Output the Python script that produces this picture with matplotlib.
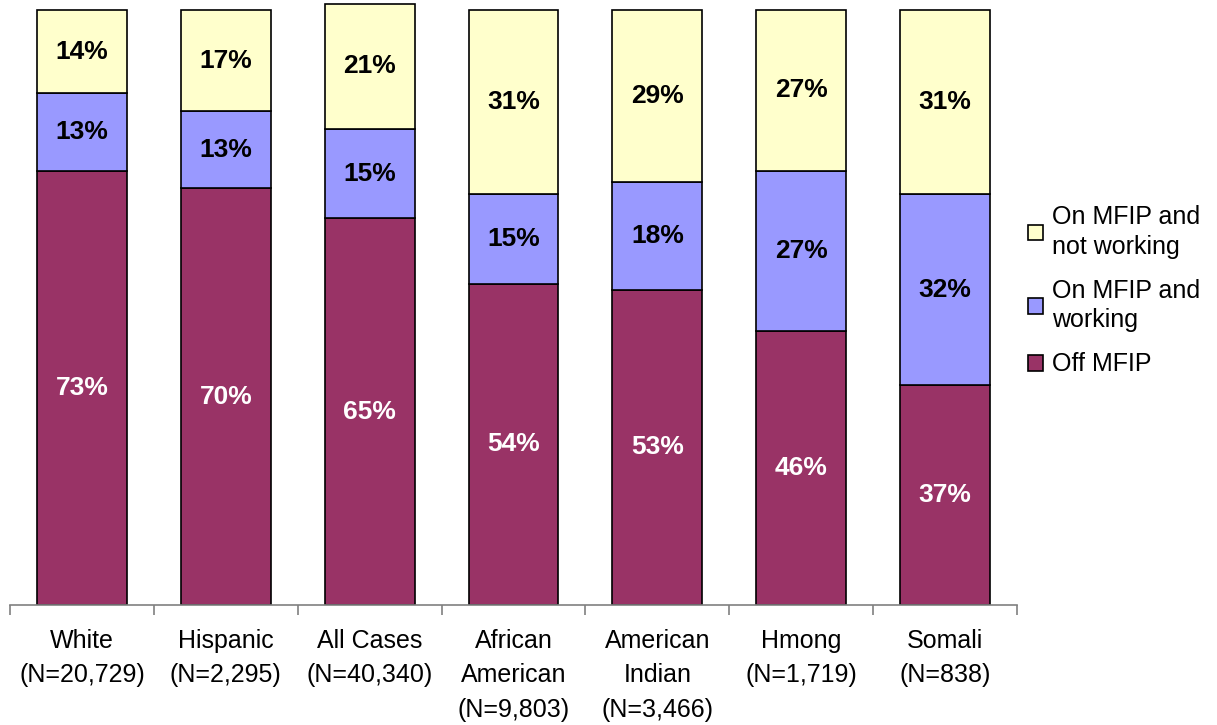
import matplotlib
matplotlib.use('Agg')
import matplotlib.pyplot as plt
from matplotlib.patches import Patch
import numpy as np

plt.rcParams['font.family'] = ['Liberation Sans', 'DejaVu Sans']

# Data
categories = ['White\n(N=20,729)', 'Hispanic\n(N=2,295)', 'All Cases\n(N=40,340)',
              'African\nAmerican\n(N=9,803)', 'American\nIndian\n(N=3,466)',
              'Hmong\n(N=1,719)', 'Somali\n(N=838)']
off_mfip = [73, 70, 65, 54, 53, 46, 37]
on_working = [13, 13, 15, 15, 18, 27, 32]
on_not_working = [14, 17, 21, 31, 29, 27, 31]

series_labels = ['Off MFIP', 'On MFIP and\nworking', 'On MFIP and\nnot working']
colors = ['#993366', '#9999FF', '#FFFFCC']
text_colors = ['white', 'black', 'black']

fig = plt.figure(figsize=(12.17, 7.25), dpi=100)
ax = fig.add_axes([10 / 1217, 120 / 725, 1007 / 1217, 604 / 725])

x = np.arange(len(categories))
bottom = np.zeros(len(categories))
handles = []
for vals, col, tcol, lab in zip([off_mfip, on_working, on_not_working], colors, text_colors, series_labels):
    vals = np.array(vals, dtype=float)
    ax.bar(x, vals, width=0.625, bottom=bottom, color=col,
           edgecolor='black', linewidth=1.2, zorder=2)
    for xi, b, v in zip(x, bottom, vals):
        ax.text(xi, b + v / 2, '{:d}%'.format(int(v)), ha='center', va='center',
                fontsize=19, fontweight='bold', color=tcol, zorder=3)
    bottom += vals
    handles.append(Patch(facecolor=col, edgecolor='black', linewidth=1.2, label=lab))

ax.set_xlim(-0.5, len(categories) - 0.5)
ax.set_ylim(0, 101.5)

for s in ['top', 'right', 'left']:
    ax.spines[s].set_visible(False)
ax.spines['bottom'].set_color('#808080')
ax.spines['bottom'].set_linewidth(1.2)
ax.set_yticks([])

ax.set_xticks(x)
ax.set_xticklabels(categories, fontsize=18, linespacing=1.57)
for t in ax.get_xticklabels():
    t.set_multialignment('center')
ax.tick_params(axis='x', which='major', length=0, pad=17)
ax.set_xticks(np.arange(-0.5, len(categories)), minor=True)
ax.tick_params(axis='x', which='minor', length=7, direction='out', color='#808080', width=1.2)

leg = fig.legend(handles=handles[::-1], loc='upper left',
                 bbox_to_anchor=(1018 / 1217, 1 - 195 / 725),
                 frameon=False, fontsize=18, handlelength=0.6, handleheight=0.6,
                 handletextpad=0.35, labelspacing=0.8, borderaxespad=0)
for t in leg.get_texts():
    t.set_linespacing(1.3)

fig.savefig('out.png', dpi=100)
